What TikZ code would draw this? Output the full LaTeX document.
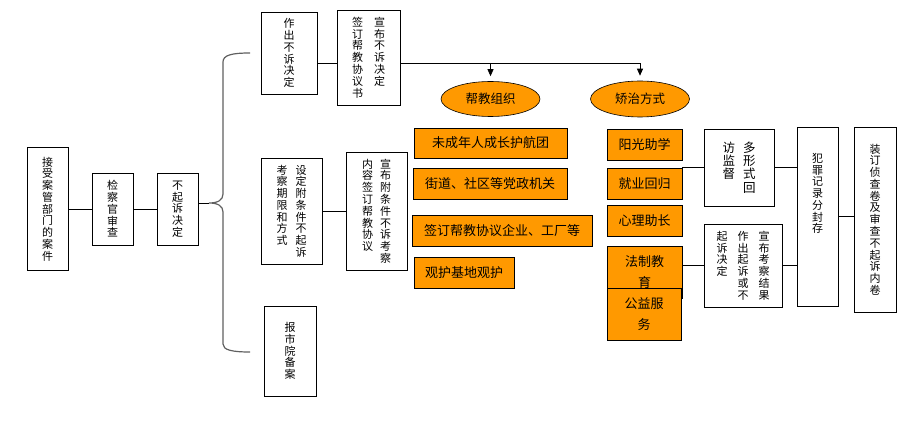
\documentclass[tikz,border=0pt]{standalone}
\usepackage{fontspec}
\setmainfont{Noto Sans CJK SC}
\usetikzlibrary{arrows.meta, shapes.geometric, calc}
\definecolor{jzorange}{RGB}{255,153,0}
% vertical text: one character per line
\newcommand\vstrend{}
\newcommand\vstrloop[1]{\ifx#1\vstrend\else\hbox to 1em{\hss#1\hss}\expandafter\vstrloop\fi}
\newcommand\vcol[2][0pt]{\vtop{\baselineskip=1.07em\lineskiplimit=-20pt\lineskip=0pt\vstrloop#2\vstrend\vskip#1}}
\tikzset{
  vbox/.style={draw, line width=0.8pt, inner sep=0pt, font=\fontsize{11}{12}\selectfont},
  obox/.style={draw, fill=jzorange, line width=0.8pt, inner sep=0pt, align=center, font=\fontsize{13}{21}\selectfont},
  oell/.style={ellipse, draw, fill=jzorange, line width=0.6pt, inner sep=0pt, font=\fontsize{12.5}{14}\selectfont},
  link/.style={line width=0.8pt},
}
\begin{document}
\begin{tikzpicture}[x=1pt, y=-1pt]
\useasboundingbox (0,0) rectangle (920,422);

% first stage
\node[vbox, minimum width=41pt, minimum height=123pt] (recv) at (47.5,209) {\vcol{接受案管部门的案件}};
\node[vbox, minimum width=41pt, minimum height=72pt] (review) at (112.5,209) {\vcol{检察官审查}};
\node[vbox, minimum width=41pt, minimum height=72pt] (nopros) at (177.5,209) {\vcol{不起诉决定}};
\draw[link] (recv) -- (review);
\draw[link] (review) -- (nopros);

% brace
\coordinate (bracetip) at (209,203);
\draw[gray!75!black, line width=1.2pt] (250,53) .. controls (232,53) and (223,55) .. (223,62) -- (223,194)
  .. controls (223,200) and (218,203) .. (bracetip) .. controls (218,203) and (223,206) .. (223,212)
  -- (223,344) .. controls (223,350) and (232,352) .. (250,352);
\draw[link] (nopros.east |- bracetip) -- (bracetip);

% upper branch
\node[vbox, minimum width=56pt, minimum height=82pt] (decide) at (289,53) {\vcol{作出不诉决定}};
\node[vbox, minimum width=63pt, minimum height=95pt] (announce) at (368.5,57.5) {\vcol{签订帮教协议书}\hspace{11pt}\vcol{宣布不诉决定}};
\coordinate (topline) at (0,63);
\draw[link] (decide.east |- topline) -- (announce.west |- topline);

% middle branch
\node[vbox, minimum width=61pt, minimum height=106pt] (setcond) at (291.5,211) {\vcol{考察期限和方式}\hspace{8pt}\vcol{设定附条件不起诉}};
\node[vbox, minimum width=61pt, minimum height=118pt] (announce2) at (376.5,211) {\vcol{内容签订帮教协议}\hspace{7pt}\vcol{宣布附条件不诉考察}};
\draw[link] (setcond) -- (announce2);

% lower branch
\node[vbox, minimum width=52pt, minimum height=90pt] (report) at (290,351) {\vcol{报市院备案}};

% ellipses
\node[oell, minimum width=99pt, minimum height=35pt] (help) at (490.5,99) {帮教组织};
\node[oell, minimum width=99pt, minimum height=36pt] (corr) at (640,99) {矫治方式};
\draw[link, -{Triangle[length=7pt, width=6pt]}, shorten >=5pt] (announce.east |- topline) -| (corr.north);
\draw[link, -{Triangle[length=7pt, width=6pt]}, shorten >=5pt] (help.north |- topline) -- (help.north);

% help organisations
\node[obox, minimum width=153pt, minimum height=30pt] (o1) at (490.5,143) {未成年人成长护航团};
\node[obox, minimum width=154pt, minimum height=31pt] (o2) at (490,183.5) {街道、社区等党政机关};
\node[obox, minimum width=180pt, minimum height=31pt] (o3) at (502,230.5) {签订帮教协议企业、工厂等};
\node[obox, minimum width=100pt, minimum height=31pt] (o4) at (464,272.5) {观护基地观护};

% correction ways
\foreach \n/\y/\t in {r1/144.5/阳光助学, r2/183.5/就业回归, r3/221/心理助长}
  \node[obox, minimum width=75pt, minimum height=31pt] (\n) at (644.5,\y) {\t};
\node[obox, minimum width=75pt, minimum height=52pt] (r4) at (644.5,272) {法制教\\育};
\node[obox, minimum width=74pt, minimum height=52pt] (r5) at (644,314) {公益服\\务};

% follow-up
\node[vbox, minimum width=70pt, minimum height=77pt, font=\fontsize{12.5}{14}\selectfont] (visit) at (739,167.5) {\vcol{访监督}\hspace{8pt}\vcol{多形式回}};
\node[vbox, minimum width=78pt, minimum height=83pt] (result) at (743,265.5) {\vcol{起诉决定}\hspace{10pt}\vcol{作出起诉或不}\hspace{10pt}\vcol{宣布考察结果}};
\draw[link] (r1.east |- visit.west) -- (visit.west);
\draw[link] (r4.east |- result.west) -- (result.west);

\node[vbox, minimum width=41pt, minimum height=179pt] (record) at (817.5,216.5) {\vcol[46pt]{犯罪记录分封存}};
\draw[link] (visit.east) -- (visit.east -| record.west);
\draw[link] (result.east) -- (result.east -| record.west);
\node[vbox, minimum width=42pt, minimum height=185pt] (final) at (875,219.5) {\vcol{装订侦查卷及审查不起诉内卷}};
\draw[link] (record) -- (record -| final.west);
\end{tikzpicture}
\end{document}
